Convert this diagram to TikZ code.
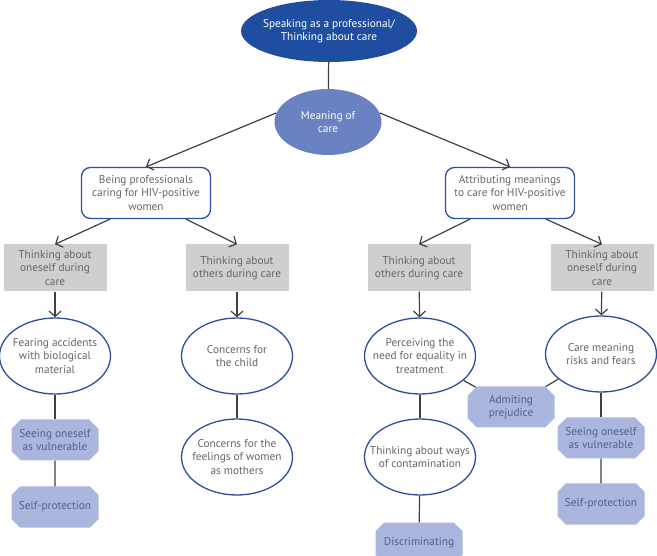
\documentclass[tikz,border=0pt]{standalone}
\usepackage{fontspec}
\setmainfont{PT Sans}
\usetikzlibrary{shapes,arrows.meta}
\definecolor{darkblue}{HTML}{1F4EA0}
\definecolor{midblue}{HTML}{6B82C2}
\definecolor{edgeblue}{HTML}{2C4F9C}
\definecolor{lightblue}{HTML}{AAB6DD}
\definecolor{boxgrey}{HTML}{CFCFCF}
\definecolor{txtgrey}{HTML}{666666}
\definecolor{cuttext}{HTML}{55608A}
\definecolor{linegrey}{HTML}{404040}

\begin{document}
\begin{tikzpicture}[x=1pt,y=-1pt,
  every node/.style={font=\fontsize{11.3}{13.4}\selectfont,align=center,text=txtgrey},
  topoval/.style={ellipse,fill=darkblue,text=white,minimum width=176pt,minimum height=62pt,inner xsep=-20pt,inner ysep=-8pt},
  midoval/.style={ellipse,fill=midblue,text=white,minimum width=107pt,minimum height=66pt,inner xsep=-12pt,inner ysep=-8pt},
  oval/.style={ellipse,draw=edgeblue,line width=1.3pt,fill=white,minimum width=111pt,minimum height=76pt,inner xsep=-18pt,inner ysep=-10pt},
  roundbox/.style={rectangle,rounded corners=9pt,draw=edgeblue,line width=1.3pt,minimum width=129pt,minimum height=51pt,inner sep=0pt},
  greybox/.style={rectangle,fill=boxgrey,minimum width=103pt,minimum height=47pt,inner sep=0pt},
  cutbox/.style={chamfered rectangle,chamfered rectangle xsep=6pt,fill=lightblue,text=cuttext,minimum width=87pt,minimum height=41pt,inner sep=0pt},
  link/.style={draw=linegrey,line width=1.2pt},
  arr/.style={link,-{Straight Barb[length=5.5pt,width=12pt]}}]

\useasboundingbox (0,0) rectangle (657,556);

\node[topoval] (spk) at (329,31) {Speaking as a professional/\\Thinking about care};
\node[midoval] (mng) at (328,122) {Meaning of\\care};

\node[roundbox] (bpr) at (146,193) {Being professionals\\caring for HIV-positive\\women};
\node[roundbox] (atm) at (510,193) {Attributing meanings\\to care for HIV-positive\\women};

\node[greybox] (lone) at (55,268) {Thinking about\\oneself during\\care};
\node[greybox] (loth) at (237,268) {Thinking about\\others during care};
\node[greybox] (roth) at (419,268) {Thinking about\\others during care};
\node[greybox] (rone) at (602,268) {Thinking about\\oneself during\\care};

\node[oval] (fear) at (55,356) {Fearing accidents\\with biological\\material};
\node[oval] (chld) at (237,356) {Concerns for\\the child};
\node[oval] (feel) at (237,457) {Concerns for the\\feelings of women\\as mothers};
\node[oval] (equal) at (420,356) {Perceiving the\\need for equality in\\treatment};
\node[oval] (risk) at (601,354) {Care meaning\\risks and fears};
\node[oval] (ways) at (420,457) {Thinking about ways\\of contamination};

\node[cutbox] (lvul) at (55,440) {Seeing oneself\\as vulnerable};
\node[cutbox] (lprt) at (55,507) {Self-protection};
\node[cutbox] (prej) at (511,407) {Admiting\\prejudice};
\node[cutbox] (disc) at (419,543) {Discriminating};
\node[cutbox] (rvul) at (601,438) {Seeing oneself\\as vulnerable};
\node[cutbox] (rprt) at (601,504) {Self-protection};

\draw[link] (spk) -- (mng);
\draw[arr] (mng.170) -- (bpr.north);
\draw[arr] (mng.10) -- (atm.north);

\draw[arr] ([xshift=-36pt]bpr.south) -- (lone.north);
\draw[arr] ([xshift=40pt]bpr.south) -- (loth.north);
\draw[arr] ([xshift=-40pt]atm.south) -- (roth.north);
\draw[arr] ([xshift=36pt]atm.south) -- (rone.north);

\draw[arr] (lone) -- (fear);
\draw[arr] (loth) -- (chld);
\draw[arr] (roth) -- (equal);
\draw[arr] (rone) -- (risk);

\draw[link] (fear) -- (lvul);
\draw[link] (lvul) -- (lprt);
\draw[link] (chld) -- (feel);
\draw[link] (equal) -- (ways);
\draw[link] (ways) -- (disc);
\draw[link] (equal) -- (prej);
\draw[link] (risk) -- (prej);
\draw[link] (risk) -- (rvul);
\draw[link] (rvul) -- (rprt);

\end{tikzpicture}
\end{document}
